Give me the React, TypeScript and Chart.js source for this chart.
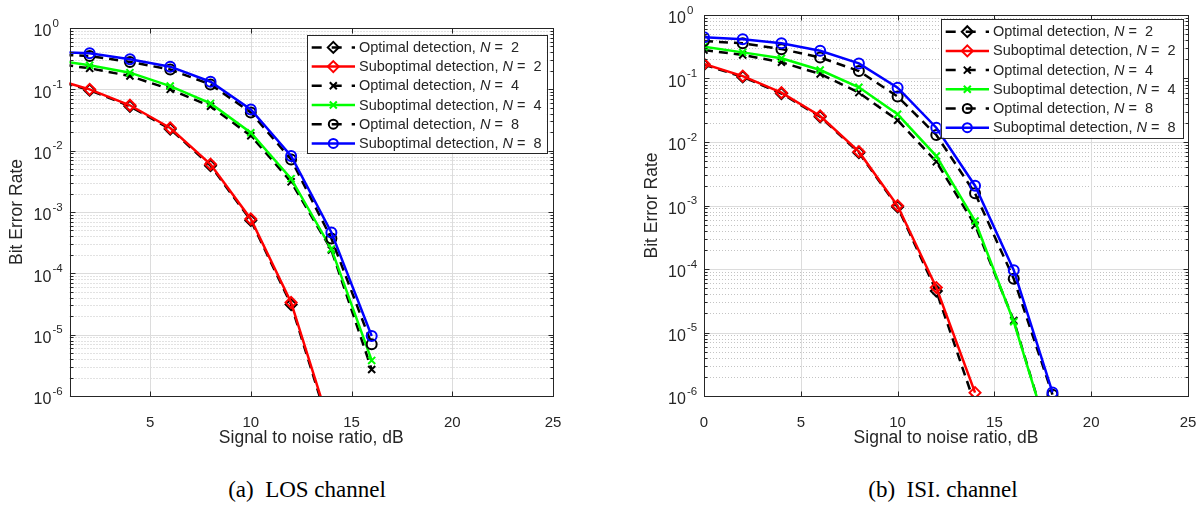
import React, { useEffect, useRef } from 'react';
import { Chart, registerables } from 'chart.js';

Chart.register(...registerables);

// ---------------- data ----------------
const snrLos = [0, 2, 4, 6, 8, 10, 12, 14, 16];
const losOptN2 = [0.15, 0.097, 0.053, 0.0225, 0.0057, 7.3e-4, 3.1e-5, 2.4e-7];
const losSubN2 = [0.155, 0.1, 0.055, 0.0234, 0.006, 7.7e-4, 3.35e-5, 2.7e-7];
const losOptN4 = [0.27, 0.22, 0.165, 0.1, 0.053, 0.0175, 0.0031, 2.4e-4, 2.7e-6];
const losSubN4 = [0.31, 0.246, 0.187, 0.113, 0.059, 0.0196, 0.0035, 2.5e-4, 3.8e-6];
const losOptN8 = [0.37, 0.35, 0.28, 0.21, 0.12, 0.042, 0.0072, 3.7e-4, 7e-6];
const losSubN8 = [0.41, 0.386, 0.31, 0.234, 0.133, 0.047, 0.0082, 4.65e-4, 9.5e-6];

const snrIsi = [0, 2, 4, 6, 8, 10, 12, 14, 16, 18];
const isiOptN2 = [0.165, 0.106, 0.058, 0.025, 0.0068, 9.5e-4, 4.5e-5, 7.3e-7];
const isiSubN2 = [0.169, 0.109, 0.0598, 0.0257, 0.00704, 9.9e-4, 5.1e-5, 1.13e-6];
const isiOptN4 = [0.28, 0.235, 0.18, 0.118, 0.06, 0.022, 0.0049, 4.9e-4, 1.55e-5, 1.5e-7];
const isiSubN4 = [0.317, 0.258, 0.208, 0.136, 0.0727, 0.0273, 0.006, 5.7e-4, 1.48e-5, 1.5e-7];
const isiOptN8 = [0.39, 0.358, 0.29, 0.215, 0.131, 0.052, 0.0129, 0.00156, 7e-5, 1.05e-6];
const isiSubN8 = [0.445, 0.414, 0.358, 0.274, 0.173, 0.0717, 0.0168, 0.00205, 9.6e-5, 1.14e-6];

const losXTicks = [5, 10, 15, 20, 25];
const isiXTicks = [0, 5, 10, 15, 20, 25];
const yDecadeExponents = [-6, -5, -4, -3, -2, -1, 0];
const yMinorMultipliers = [2, 3, 4, 5, 6, 7, 8, 9];

const detectionLabels = [
  'Optimal detection',
  'Suboptimal detection',
  'Optimal detection',
  'Suboptimal detection',
  'Optimal detection',
  'Suboptimal detection',
];
const nValues = [2, 2, 4, 4, 8, 8];

const xTitle = 'Signal to noise ratio, dB';
const yTitle = 'Bit Error Rate';
const captionLos = '(a)\u00a0\u00a0LOS channel';
const captionIsi = '(b)\u00a0\u00a0ISI. channel';

// ---------------- styles ----------------
const FONT = "'Liberation Sans', Arial, Helvetica, sans-serif";
const AX = '#262626';
const lineColors = ['#000000', '#ff0000', '#000000', '#00ff00', '#000000', '#0000ff'];
const markerStyles = ['rectRot', 'rectRot', 'crossRot', 'crossRot', 'circle', 'circle'];
const markerRadii = [5.5, 5.5, 5, 5, 5, 5];
const dashedSeries = [true, false, true, false, true, false];

function drawMarker(ctx: CanvasRenderingContext2D, style: string, x: number, y: number, color: string) {
  ctx.save();
  ctx.strokeStyle = color;
  ctx.lineWidth = 2;
  ctx.setLineDash([]);
  ctx.beginPath();
  if (style === 'circle') {
    ctx.arc(x, y, 4.5, 0, Math.PI * 2);
  } else if (style === 'rectRot') {
    const r = 5.5;
    ctx.moveTo(x, y - r);
    ctx.lineTo(x + r, y);
    ctx.lineTo(x, y + r);
    ctx.lineTo(x - r, y);
    ctx.closePath();
  } else {
    const r = 3.5;
    ctx.moveTo(x - r, y - r);
    ctx.lineTo(x + r, y + r);
    ctx.moveTo(x + r, y - r);
    ctx.lineTo(x - r, y + r);
  }
  ctx.stroke();
  ctx.restore();
}

const matlabAxes = {
  id: 'matlabAxes',
  beforeDatasetsDraw(chart: any, _args: any, opts: any) {
    const { ctx, chartArea: a, scales } = chart;
    const xs = scales.x;
    const ys = scales.y;
    ctx.save();
    ctx.lineWidth = 1;
    // minor y grid (dotted)
    ctx.strokeStyle = '#c4c4c4';
    ctx.setLineDash([1, 2]);
    for (const e of yDecadeExponents) {
      for (const k of yMinorMultipliers) {
        const v = k * Math.pow(10, e);
        if (v >= 1) continue;
        const py = Math.round(ys.getPixelForValue(v)) + 0.5;
        ctx.beginPath();
        ctx.moveTo(a.left, py);
        ctx.lineTo(a.right, py);
        ctx.stroke();
      }
    }
    // major grid (solid)
    ctx.setLineDash([]);
    ctx.strokeStyle = '#dcdcdc';
    for (const e of yDecadeExponents) {
      const py = Math.round(ys.getPixelForValue(Math.pow(10, e))) + 0.5;
      ctx.beginPath();
      ctx.moveTo(a.left, py);
      ctx.lineTo(a.right, py);
      ctx.stroke();
    }
    for (const t of opts.xTicks) {
      const px = Math.round(xs.getPixelForValue(t)) + 0.5;
      ctx.beginPath();
      ctx.moveTo(px, a.top);
      ctx.lineTo(px, a.bottom);
      ctx.stroke();
    }
    ctx.restore();
  },
  afterDatasetsDraw(chart: any, _args: any, opts: any) {
    const { ctx, chartArea: a, scales } = chart;
    const xs = scales.x;
    const ys = scales.y;
    ctx.save();
    const L = Math.round(a.left) + 0.5;
    const R = Math.round(a.right) + 0.5;
    const T = Math.round(a.top) + 0.5;
    const B = Math.round(a.bottom) + 0.5;
    ctx.strokeStyle = AX;
    ctx.lineWidth = 1;
    ctx.setLineDash([]);
    ctx.strokeRect(L, T, R - L, B - T);
    // x tick marks (inward, bottom & top)
    ctx.beginPath();
    for (const t of opts.xTicks) {
      const px = Math.round(xs.getPixelForValue(t)) + 0.5;
      ctx.moveTo(px, B);
      ctx.lineTo(px, B - 5);
      ctx.moveTo(px, T);
      ctx.lineTo(px, T + 5);
    }
    // y tick marks
    for (const e of yDecadeExponents) {
      const py = Math.round(ys.getPixelForValue(Math.pow(10, e))) + 0.5;
      ctx.moveTo(L, py);
      ctx.lineTo(L + 5, py);
      ctx.moveTo(R, py);
      ctx.lineTo(R - 5, py);
      for (const k of yMinorMultipliers) {
        const v = k * Math.pow(10, e);
        if (v >= 1) continue;
        const pm = Math.round(ys.getPixelForValue(v)) + 0.5;
        ctx.moveTo(L, pm);
        ctx.lineTo(L + 3, pm);
        ctx.moveTo(R, pm);
        ctx.lineTo(R - 3, pm);
      }
    }
    ctx.stroke();
    // y tick labels 10^e
    ctx.fillStyle = AX;
    ctx.textAlign = 'left';
    ctx.textBaseline = 'middle';
    for (const e of yDecadeExponents) {
      const py = ys.getPixelForValue(Math.pow(10, e));
      ctx.font = `16px ${FONT}`;
      ctx.fillText('10', a.left - 36, py + 4);
      ctx.font = `11.5px ${FONT}`;
      ctx.fillText(String(e), a.left - 36 + 19, py - 4.5);
    }
    ctx.restore();
  },
  afterDraw(chart: any, _args: any, opts: any) {
    const { ctx, chartArea: a } = chart;
    const lg = opts.legend;
    const bx = a.right - lg.rightGap - lg.width;
    const by = a.top + lg.topGap;
    ctx.save();
    ctx.fillStyle = '#ffffff';
    ctx.fillRect(bx, by, lg.width, lg.height);
    ctx.strokeStyle = AX;
    ctx.lineWidth = 1;
    ctx.strokeRect(Math.round(bx) + 0.5, Math.round(by) + 0.5, Math.round(lg.width), Math.round(lg.height));
    chart.data.datasets.forEach((_ds: any, i: number) => {
      const cy = by + 12.7 + i * 19.2;
      const x0 = bx + 5;
      const x1 = bx + 48.3;
      ctx.save();
      ctx.strokeStyle = lineColors[i];
      ctx.lineWidth = 2.5;
      ctx.setLineDash(dashedSeries[i] ? [10, 10] : []);
      ctx.beginPath();
      ctx.moveTo(x0, cy);
      ctx.lineTo(x1, cy);
      ctx.stroke();
      ctx.restore();
      drawMarker(ctx, markerStyles[i], bx + 26.6, cy, lineColors[i]);
      // text with italic N
      let tx = bx + 52.3;
      ctx.fillStyle = AX;
      ctx.textBaseline = 'middle';
      ctx.textAlign = 'left';
      const parts: [string, boolean][] = [
        [detectionLabels[i] + ', ', false],
        ['N', true],
        [' =  ' + nValues[i], false],
      ];
      for (const [s, it] of parts) {
        ctx.font = `${it ? 'italic ' : ''}14.5px ${FONT}`;
        ctx.fillText(s, tx, cy + 0.5);
        tx += ctx.measureText(s).width;
      }
    });
    ctx.restore();
  },
};

type ChartSpec = {
  snr: number[];
  series: number[][];
  xMin: number;
  xTicks: number[];
  canvasW: number;
  canvasH: number;
  area: { left: number; top: number; right: number; bottom: number };
  legend: { rightGap: number; topGap: number; width: number; height: number };
};

const Y_AXIS_W = 69.5;

function buildConfig(spec: ChartSpec): any {
  const datasets = spec.series.map((vals, i) => ({
    label: `${detectionLabels[i]}, N = ${nValues[i]}`,
    data: vals.map((v, j) => ({ x: spec.snr[j], y: v })),
    borderColor: lineColors[i],
    backgroundColor: 'rgba(0,0,0,0)',
    borderWidth: 2.5,
    borderDash: dashedSeries[i] ? [9, 6] : [],
    pointStyle: markerStyles[i],
    pointRadius: markerRadii[i],
    pointBorderWidth: 2,
    pointBorderColor: lineColors[i],
    pointBackgroundColor: 'rgba(0,0,0,0)',
    tension: 0,
    fill: false,
    order: spec.series.length - 1 - i,
  }));
  return {
    type: 'line',
    data: { datasets },
    options: {
      animation: false,
      responsive: false,
      events: [],
      layout: {
        padding: {
          left: spec.area.left - Y_AXIS_W,
          top: spec.area.top,
          right: spec.canvasW - spec.area.right,
          bottom: 0,
        },
      },
      plugins: {
        legend: { display: false },
        tooltip: { enabled: false },
        matlabAxes: { xTicks: spec.xTicks, legend: spec.legend },
      },
      scales: {
        x: {
          type: 'linear',
          min: spec.xMin,
          max: 25,
          grid: { display: false },
          border: { display: false },
          afterBuildTicks: (s: any) => {
            s.ticks = spec.xTicks.map((v) => ({ value: v }));
          },
          afterFit: (s: any) => {
            s.height = spec.canvasH - spec.area.bottom;
          },
          ticks: {
            color: AX,
            font: { family: FONT, size: 15 },
            padding: 10,
            maxRotation: 0,
            autoSkip: false,
          },
          title: {
            display: true,
            text: xTitle,
            color: AX,
            font: { family: FONT, size: 17.5 },
            padding: { top: 0, bottom: 6.5 },
          },
        },
        y: {
          type: 'logarithmic',
          min: 1e-6,
          max: 1,
          grid: { display: false },
          border: { display: false },
          ticks: { display: false },
          afterFit: (s: any) => {
            s.width = Y_AXIS_W;
          },
          title: {
            display: true,
            text: yTitle,
            color: AX,
            font: { family: FONT, size: 17.5 },
            padding: { top: 7, bottom: 0 },
          },
        },
      },
    },
    plugins: [matlabAxes],
  };
}

function BerChart({ spec, left }: { spec: ChartSpec; left: number }) {
  const ref = useRef<HTMLCanvasElement | null>(null);
  useEffect(() => {
    if (!ref.current) return;
    const chart = new Chart(ref.current, buildConfig(spec));
    return () => chart.destroy();
  }, []);
  return (
    <canvas
      ref={ref}
      width={spec.canvasW}
      height={spec.canvasH}
      style={{ position: 'absolute', left, top: 0, width: spec.canvasW, height: spec.canvasH }}
    />
  );
}

const losSpec: ChartSpec = {
  snr: snrLos,
  series: [losOptN2, losSubN2, losOptN4, losSubN4, losOptN8, losSubN8],
  xMin: 1,
  xTicks: losXTicks,
  canvasW: 600,
  canvasH: 455,
  area: { left: 69.5, top: 28, right: 553, bottom: 396 },
  legend: { rightGap: 6.3, topGap: 6.7, width: 240, height: 118 },
};

const isiSpec: ChartSpec = {
  snr: snrIsi,
  series: [isiOptN2, isiSubN2, isiOptN4, isiSubN4, isiOptN8, isiSubN8],
  xMin: 0,
  xTicks: isiXTicks,
  canvasW: 630,
  canvasH: 455,
  area: { left: 104, top: 15, right: 588, bottom: 396 },
  legend: { rightGap: 5.3, topGap: 4, width: 242, height: 118.7 },
};

const captionStyle: React.CSSProperties = {
  position: 'absolute',
  top: 476,
  width: 400,
  textAlign: 'center',
  fontFamily: "'Liberation Serif', 'Times New Roman', serif",
  fontSize: 23,
  color: '#000',
  lineHeight: '28px',
  whiteSpace: 'pre',
};

export default function App() {
  return (
    <div
      style={{
        position: 'fixed',
        left: 0,
        top: 0,
        width: 1199,
        height: 508,
        background: '#ffffff',
        overflow: 'hidden',
      }}
    >
      <BerChart spec={losSpec} left={0} />
      <BerChart spec={isiSpec} left={600} />
      <div style={{ ...captionStyle, left: 307 - 200 }}>{captionLos}</div>
      <div style={{ ...captionStyle, left: 943 - 200 }}>{captionIsi}</div>
    </div>
  );
}
